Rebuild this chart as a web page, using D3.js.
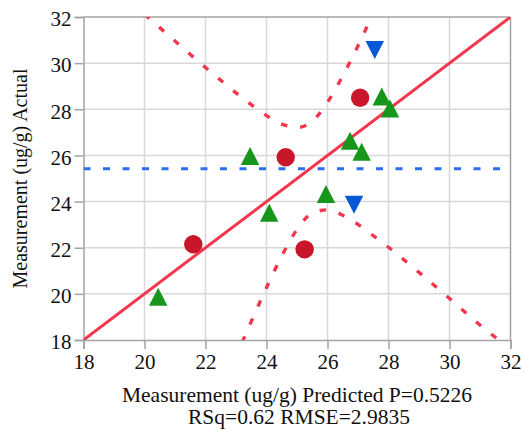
<!DOCTYPE html>
<html><head><meta charset="utf-8">
<script src="https://cdn.jsdelivr.net/npm/d3@7"></script>
<style>
html,body{margin:0;padding:0;background:#fff;}
svg{display:block;}
svg text{font-family:"Liberation Serif","Times New Roman",serif !important;fill:#111;}
</style></head>
<body>
<svg id="chart" width="526" height="430"></svg>
<script>
// ---- data ----
const xTicks = [18, 20, 22, 24, 26, 28, 30, 32];
const yTicks = [18, 20, 22, 24, 26, 28, 30, 32];

// group 1: red circles  [predicted, actual]
const circlePred = [21.6, 24.63, 25.25, 27.07];
const circleAct  = [22.15, 25.92, 21.93, 28.5];
// group 2: green triangles
const triPred = [20.45, 23.46, 24.09, 25.95, 26.74, 27.12, 27.78, 28.05];
const triAct  = [19.88, 25.98, 23.52, 24.33, 26.64, 26.16, 28.55, 28.03];
// group 3: blue down triangles
const downPred = [26.87, 27.55];
const downAct  = [23.86, 30.57];

const meanActual = 25.42;
const fitLine = [[18, 18], [32, 32]];

// confidence curves
const upperCurveX = [20.0, 20.5, 21, 21.5, 22, 22.5, 23, 23.5, 24, 24.5, 25, 25.5, 26, 26.5, 27, 27.3, 27.45];
const upperCurveY = [32.12, 31.54, 30.96, 30.38, 29.81, 29.26, 28.71, 28.2, 27.73, 27.36, 27.21, 27.48, 28.3, 29.45, 30.75, 31.6, 32.05];
const lowerCurveX = [23.2, 23.5, 24, 24.5, 25, 25.5, 26, 26.5, 27, 27.5, 28, 29, 30, 31, 31.5, 31.7];
const lowerCurveY = [17.9, 18.8, 20.27, 21.64, 22.79, 23.5, 23.64, 23.41, 23.01, 22.52, 22.02, 20.93, 19.8, 18.65, 18.12, 17.9];

const xTitle1 = "Measurement (ug/g) Predicted P=0.5226";
const xTitle2 = "RSq=0.62 RMSE=2.9835";
const yTitle = "Measurement (ug/g) Actual";

// ---- drawing ----
const svg = d3.select("#chart");
const L = 83.5, R = 510.5, T = 17, B = 340;
const x = d3.scaleLinear().domain([18, 32]).range([L, R]);
const y = d3.scaleLinear().domain([18, 32]).range([B, T]);
const serif = '"Liberation Serif", "Times New Roman", serif';

const gridColor = "#d8d8d8", axisColor = "#a3a3a3";

// grid
svg.append("g").selectAll("line").data(xTicks.slice(1, -1)).join("line")
  .attr("x1", d => x(d)).attr("x2", d => x(d)).attr("y1", T).attr("y2", B)
  .attr("stroke", gridColor).attr("stroke-width", 1.5);
svg.append("g").selectAll("line").data(yTicks.slice(1, -1)).join("line")
  .attr("y1", d => y(d)).attr("y2", d => y(d)).attr("x1", L).attr("x2", R)
  .attr("stroke", gridColor).attr("stroke-width", 1.5);

// frame top/right
svg.append("line").attr("x1", L).attr("x2", R).attr("y1", T).attr("y2", T).attr("stroke", axisColor).attr("stroke-width", 1.5);
svg.append("line").attr("x1", R).attr("x2", R).attr("y1", T).attr("y2", B).attr("stroke", axisColor).attr("stroke-width", 1.5);

// axes
const xAxis = svg.append("g").attr("transform", `translate(0,${B})`)
  .call(d3.axisBottom(x).tickValues(xTicks).tickSize(9).tickPadding(5).tickFormat(d3.format("d")));
const yAxis = svg.append("g").attr("transform", `translate(${L},0)`)
  .call(d3.axisLeft(y).tickValues(yTicks).tickSize(9).tickPadding(3).tickFormat(d3.format("d")));
[xAxis, yAxis].forEach(g => {
  g.attr("font-family", null).attr("font-size", null);
  g.select(".domain").attr("stroke", axisColor).attr("stroke-width", 1.5);
  g.selectAll(".tick line").attr("stroke", axisColor).attr("stroke-width", 1.5);
  g.selectAll(".tick text").style("font-family", serif).style("font-size", "21px").attr("fill", "#111");
});
yAxis.selectAll(".tick text").attr("dy", "0.42em");

// clip for plot region
svg.append("clipPath").attr("id", "clip").append("rect")
  .attr("x", L).attr("y", T).attr("width", R - L).attr("height", B - T);
const plot = svg.append("g").attr("clip-path", "url(#clip)");

// mean line
plot.append("line").attr("x1", L).attr("x2", R).attr("y1", y(meanActual)).attr("y2", y(meanActual))
  .attr("stroke", "#2b6ef2").attr("stroke-width", 3).attr("stroke-dasharray", "7,12.5");

// confidence curves
const curveLine = d3.line().x(d => x(d[0])).y(d => y(d[1])).curve(d3.curveMonotoneX);
const upper = upperCurveX.map((v, i) => [v, upperCurveY[i]]);
const lower = lowerCurveX.map((v, i) => [v, lowerCurveY[i]]);
[upper, lower].forEach(pts => {
  plot.append("path").attr("d", curveLine(pts)).attr("fill", "none")
    .attr("stroke", "#f2364e").attr("stroke-width", 3.4).attr("stroke-dasharray", "6.5,13");
});

// fit line
plot.append("line").attr("x1", x(fitLine[0][0])).attr("y1", y(fitLine[0][1]))
  .attr("x2", x(fitLine[1][0])).attr("y2", y(fitLine[1][1]))
  .attr("stroke", "#f2364e").attr("stroke-width", 3);

// markers
const tw = 18.5, th = 18;
plot.append("g").selectAll("path").data(triPred.map((v, i) => [v, triAct[i]])).join("path")
  .attr("d", d => {
    const cx = x(d[0]), cy = y(d[1]);
    return `M${cx},${cy - th / 2}L${cx + tw / 2},${cy + th / 2}L${cx - tw / 2},${cy + th / 2}Z`;
  })
  .attr("fill", "#17961c");
plot.append("g").selectAll("path").data(downPred.map((v, i) => [v, downAct[i]])).join("path")
  .attr("d", d => {
    const cx = x(d[0]), cy = y(d[1]);
    return `M${cx - tw / 2},${cy - th / 2}L${cx + tw / 2},${cy - th / 2}L${cx},${cy + th / 2}Z`;
  })
  .attr("fill", "#0758d6");
plot.append("g").selectAll("circle").data(circlePred.map((v, i) => [v, circleAct[i]])).join("circle")
  .attr("cx", d => x(d[0])).attr("cy", d => y(d[1])).attr("r", 9.2)
  .attr("fill", "#c8162b");

// titles
const cx = (L + R) / 2;
svg.append("text").attr("x", cx).attr("y", 402).attr("text-anchor", "middle").style("font-size", "21.5px").text(xTitle1);
svg.append("text").attr("x", cx + 2).attr("y", 424).attr("text-anchor", "middle").style("font-size", "21.5px").text(xTitle2);
svg.append("text").attr("transform", `translate(27,${(T + B) / 2}) rotate(-90)`)
  .attr("text-anchor", "middle").style("font-size", "20px").text(yTitle);
</script>
</body></html>
